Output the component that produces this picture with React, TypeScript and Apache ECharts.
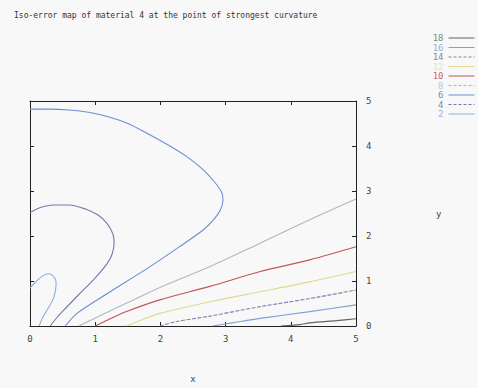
import React, { useEffect, useRef } from "react";
import * as echarts from "echarts";

const titleText = "Iso-error map of material 4 at the point of strongest curvature";
const xTicks = [0, 1, 2, 3, 4, 5];
const yTicks = [0, 1, 2, 3, 4, 5];

// contour levels (legend order, top to bottom)
const levels = ["18", "16", "14", "12", "10", "8", "6", "4", "2"];
const lineColors = ["#5c6858", "#7f9fd8", "#8080a8", "#e2d88e", "#c05656", "#b0b6c0", "#6a8ed4", "#7a78a8", "#8cb0e4"];
const labelColors = ["#7a8a78", "#9ab0d8", "#888888", "#ece4b0", "#c86a6a", "#b8c8d8", "#7090d0", "#888898", "#90b0e8"];
const legendDashed = [false, false, true, false, false, true, false, true, false];
const plotDashed = [false, false, true, false, false, false, false, false, false];

const level18 = [[3.85, 0], [4.14, 0.03], [4.29, 0.07], [4.7, 0.12], [5, 0.16]];
const level16 = [[2.8, 0], [3.1, 0.07], [3.53, 0.17], [4.29, 0.32], [5, 0.47]];
const level14 = [[1.99, 0], [2.25, 0.1], [2.76, 0.22], [3.53, 0.43], [4.29, 0.61], [5, 0.8]];
const level12 = [[1.48, 0], [1.7, 0.13], [1.99, 0.28], [2.76, 0.54], [3.53, 0.76], [4.29, 0.98], [5, 1.21]];
const level10 = [[1.0, 0], [1.2, 0.14], [1.48, 0.32], [1.99, 0.58], [2.76, 0.88], [3.53, 1.21], [4.29, 1.47], [5, 1.76]];
const level8 = [[0.75, 0], [1.0, 0.18], [1.5, 0.52], [2.0, 0.86], [2.76, 1.32], [3.53, 1.84], [4.29, 2.36], [5, 2.82]];
const level6 = [
  [0, 4.82], [0.3, 4.82], [0.6, 4.8], [0.9, 4.75], [1.2, 4.65], [1.5, 4.5], [1.8, 4.28],
  [2.1, 4.04], [2.4, 3.77], [2.65, 3.48], [2.83, 3.2], [2.94, 2.97], [2.96, 2.8], [2.92, 2.58],
  [2.82, 2.37], [2.66, 2.14], [2.3, 1.77], [1.8, 1.28], [1.23, 0.76], [0.72, 0.28], [0.54, 0],
];
const level4 = [
  [0, 2.52], [0.15, 2.63], [0.36, 2.69], [0.6, 2.69], [0.85, 2.6], [1.05, 2.46], [1.18, 2.28],
  [1.27, 2.05], [1.29, 1.85], [1.26, 1.6], [1.18, 1.38], [0.97, 1.02], [0.75, 0.7], [0.55, 0.4],
  [0.42, 0.2], [0.31, 0],
];
const level2 = [
  [0, 0.84], [0.1, 1.0], [0.2, 1.12], [0.28, 1.16], [0.35, 1.12], [0.4, 0.98], [0.39, 0.78],
  [0.35, 0.58], [0.28, 0.4], [0.2, 0.2], [0.14, 0],
];
const levelData = [level18, level16, level14, level12, level10, level8, level6, level4, level2];

const FONT = "DejaVu Sans Mono";

export default function App() {
  const ref = useRef<HTMLDivElement>(null);
  useEffect(() => {
    if (!ref.current) return;
    const chart = echarts.init(ref.current, null, { renderer: "svg" });
    const axisLine = { show: true, onZero: false, lineStyle: { color: "#222", width: 1 } };
    const axisTick = { show: true, inside: true, length: 4, lineStyle: { color: "#222" } };
    chart.setOption({
      animation: false,
      backgroundColor: "#f8f8f8",
      title: {
        text: titleText,
        left: 14,
        top: 11,
        padding: 0,
        textStyle: { fontFamily: FONT, fontSize: 8, fontWeight: "normal", color: "#333" },
      },
      legend: {
        orient: "vertical",
        right: 3,
        top: 33.5,
        align: "right",
        itemWidth: 26,
        itemHeight: 9,
        itemGap: 0.5,
        padding: 0,
        selectedMode: false,
        itemStyle: { opacity: 0 },
        textStyle: { fontFamily: FONT, fontSize: 9 },
        data: levels.map((name, i) => ({
          name,
          textStyle: { color: labelColors[i] },
          lineStyle: { color: lineColors[i], type: legendDashed[i] ? [3, 2] : "solid", width: 1 },
        })),
      },
      grid: { left: 30, right: 122, top: 101, bottom: 62, containLabel: false },
      xAxis: [
        {
          type: "value",
          min: 0,
          max: 5,
          interval: 1,
          position: "bottom",
          name: "x",
          nameLocation: "middle",
          nameGap: 48,
          nameTextStyle: { fontFamily: FONT, fontSize: 9, color: "#444" },
          axisLine,
          axisTick,
          splitLine: { show: false },
          axisLabel: {
            fontFamily: FONT,
            fontSize: 9,
            color: "#444",
            margin: 8,
            formatter: (v: number) => (xTicks.includes(v) ? String(v) : ""),
          },
        },
        {
          type: "value",
          min: 0,
          max: 5,
          interval: 1,
          position: "top",
          axisLine,
          axisTick,
          splitLine: { show: false },
          axisLabel: { show: false },
        },
      ],
      yAxis: [
        {
          type: "value",
          min: 0,
          max: 5,
          interval: 1,
          position: "right",
          name: "y",
          nameLocation: "middle",
          nameGap: 80,
          nameRotate: 0,
          nameTextStyle: { fontFamily: FONT, fontSize: 9, color: "#444" },
          axisLine,
          axisTick,
          splitLine: { show: false },
          axisLabel: {
            fontFamily: FONT,
            fontSize: 9,
            color: "#444",
            margin: 10,
            formatter: (v: number) => (yTicks.includes(v) ? String(v) : ""),
          },
        },
        {
          type: "value",
          min: 0,
          max: 5,
          interval: 1,
          position: "left",
          axisLine,
          axisTick,
          splitLine: { show: false },
          axisLabel: { show: false },
        },
      ],
      series: levels.map((name, i) => ({
        name,
        type: "line",
        xAxisIndex: 0,
        yAxisIndex: 0,
        data: levelData[i],
        smooth: 0.3,
        symbol: "none",
        showSymbol: false,
        lineStyle: { color: lineColors[i], width: 1.1, type: plotDashed[i] ? [4, 1.5] : "solid" },
        itemStyle: { color: lineColors[i] },
        emphasis: { disabled: true },
      })),
    });
    return () => chart.dispose();
  }, []);
  return (
    <div
      ref={ref}
      style={{ position: "fixed", left: 0, top: 0, width: 478, height: 388 }}
    />
  );
}
